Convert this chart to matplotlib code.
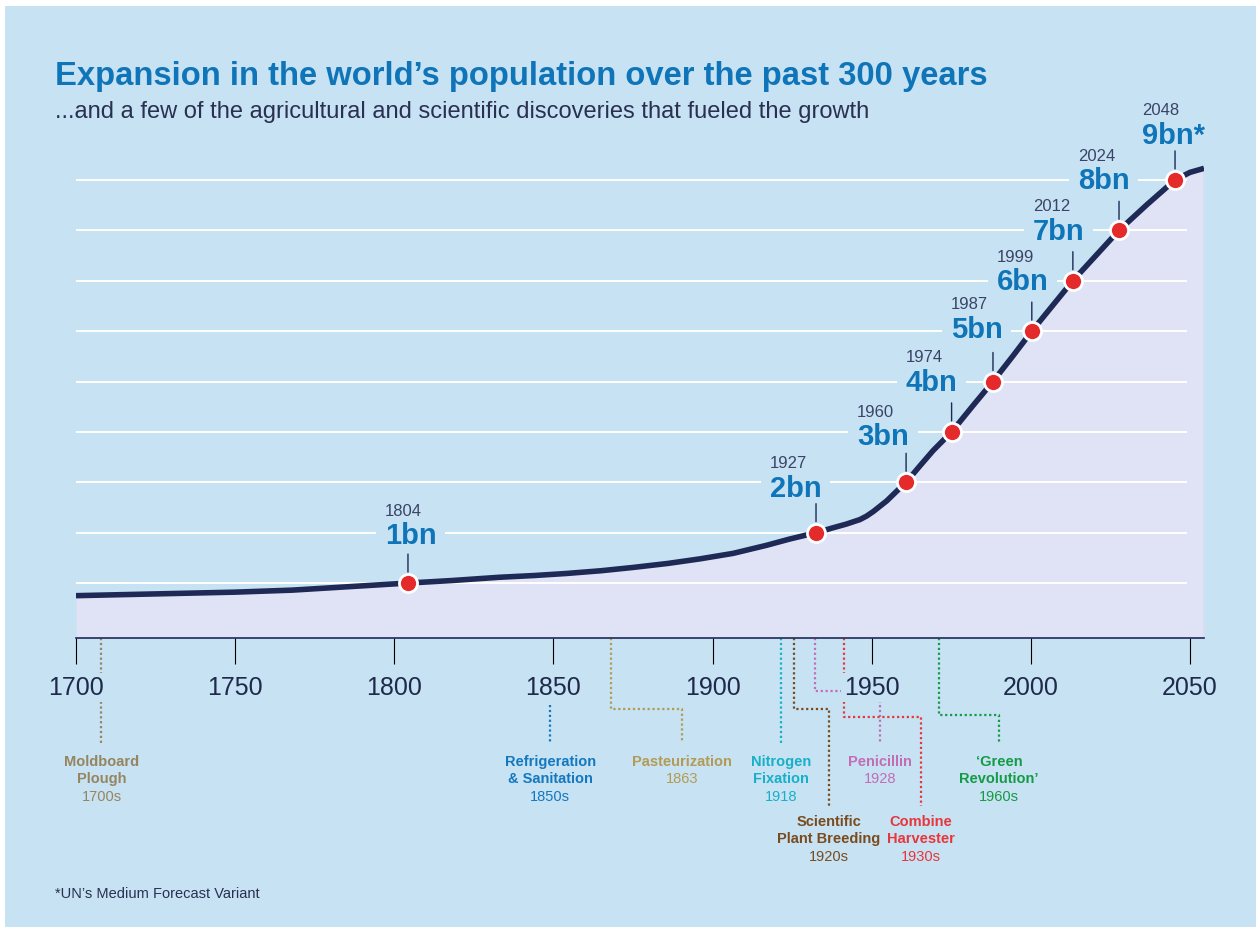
"""World population 1700-2050 with the discoveries that fed the growth.

Infographic-style recreation: a single population curve with billion
milestones, and a timeline of agricultural/scientific discoveries hanging
below the year axis.
"""

import matplotlib

matplotlib.use("Agg")
import matplotlib.pyplot as plt
from matplotlib.patches import Rectangle

plt.rcParams["font.family"] = ["Liberation Sans", "DejaVu Sans"]

# population curve as drawn (year, billions)
curve_years = [1700, 1750, 1768, 1804.3, 1818, 1833, 1844, 1854, 1865, 1875,
               1886, 1896, 1906.5, 1917, 1924, 1932.5, 1938, 1942, 1946.3, 1948.4,
               1950.5, 1954.7, 1957.8, 1960.8, 1965.2, 1969.3, 1975.1, 1981.8, 1988.1,
               1994.4, 2000.3, 2013.2, 2027.7, 2036.3, 2045.3, 2050, 2054.4]
curve_bn = [0.75, 0.82, 0.86, 1.0, 1.05, 1.115, 1.15, 1.19, 1.245, 1.31,
            1.39, 1.48, 1.59, 1.75, 1.87, 2.0, 2.1, 2.17, 2.26, 2.33,
            2.42, 2.63, 2.82, 3.0, 3.33, 3.63, 4.0, 4.52, 5.0,
            5.51, 6.0, 7.0, 8.0, 8.5, 9.0, 9.15, 9.23]

# billion milestones: where the dot sits on the curve, and what it says
milestone_pos = [1804.3, 1932.5, 1960.8, 1975.1, 1988.1, 2000.3, 2013.2, 2027.7, 2045.3]
milestone_bn = [1, 2, 3, 4, 5, 6, 7, 8, 9]
milestone_year = ["1804", "1927", "1960", "1974", "1987", "1999", "2012", "2024", "2048"]
milestone_text = ["1bn", "2bn", "3bn", "4bn", "5bn", "6bn", "7bn", "8bn", "9bn*"]

grid_levels = [1, 2, 3, 4, 5, 6, 7, 8, 9]
year_ticks = [1700, 1750, 1800, 1850, 1900, 1950, 2000, 2050]

# discoveries hanging off the timeline
disc_names = ["Moldboard\nPlough", "Refrigeration\n& Sanitation", "Pasteurization",
              "Nitrogen\nFixation", "Scientific\nPlant Breeding", "Penicillin",
              "Combine\nHarvester", "\u2018Green\nRevolution\u2019"]
disc_dates = ["1700s", "1850s", "1863", "1918", "1920s", "1928", "1930s", "1960s"]
disc_pos = [1708, 1849, 1868, 1921.5, 1925.6, 1932.2, 1941.3, 1971.1]
disc_colors = ["#958560", "#1478bf", "#b39b55", "#17b0c8",
               "#7a4b1e", "#c36db5", "#e8363b", "#159a45"]

# --- layout (pixels) ---
W, H = 1256, 928
BASE_PX, TOP_PX = 639, 150.7
PT = 72 / 100  # px -> points at dpi 100

# leader lines, px below the axis: (start, elbow or None, label x, end, text row)
DISC_LEADERS = [
    (0, None, 1708, 105, 0),
    (67, None, 1849, 106, 0),
    (0, 71, 1890.4, 104, 0),
    (0, None, 1921.5, 107, 0),
    (0, 71, 1936.6, 168, 1),
    (0, 53, 1952.6, 106, 0),
    (0, 79, 1965.5, 168, 1),
    (0, 77, 1990.0, 106, 0),
]
ROW_DEPTH = [123, 183]
LINE_PITCH = 17.5

# milestone label offsets from the dot, px (left edge, rise of the "bn" text)
label_dx = [-23, -46, -49, -46, -42, -35, -40, -41, -33]
label_rise = [48, 45, 46, 50, 53, 50, 50, 50, 45]

BG = "#c6e2f3"
FILL = "#dfe3f5"
NAVY = "#1e2a55"
BLUE = "#0f75b8"
RED = "#e52a2c"
TEXT = "#2a3050"
YEAR_C = "#3b4466"

fig = plt.figure(figsize=(W / 100, H / 100), dpi=100, facecolor="white")
fig.add_artist(Rectangle((5 / W, 0), 1, 1 - 7 / H, transform=fig.transFigure,
                         facecolor=BG, edgecolor="none", zorder=-10))

y0 = -0.09
ax = fig.add_axes([76 / W, (H - BASE_PX) / H, 1128 / W, (BASE_PX - TOP_PX) / H])
ax.set_facecolor("none")
ax.set_xlim(1700, 2054.4)
ax.set_ylim(y0, 9.6)
ax.set_zorder(2)

tl = fig.add_axes([76 / W, 0, 1128 / W, (H - BASE_PX) / H], sharex=ax)
tl.set_ylim(H - BASE_PX, 0)
tl.axis("off")
tl.set_zorder(1)

# area + grid + curve
ax.fill_between(curve_years, curve_bn, y0, color=FILL, lw=0, zorder=1)
ax.plot([curve_years[-1]] * 2, [y0, curve_bn[-1]], color="#aecde4", lw=1, zorder=1.5)
ax.hlines(grid_levels, 1700, 2049, colors="white", lw=1.4, zorder=2)
ax.plot(curve_years, curve_bn, color=NAVY, lw=4.0, solid_capstyle="butt",
        solid_joinstyle="round", zorder=4)
ax.plot(milestone_pos, milestone_bn, "o", ms=13, mfc=RED, mec="white", mew=2,
        zorder=6, clip_on=False)

for x, v, yr, txt, dx, rise in zip(milestone_pos, milestone_bn, milestone_year,
                                   milestone_text, label_dx, label_rise):
    ax.annotate(txt, (x, v), xytext=(dx * PT, rise * PT), textcoords="offset points",
                ha="left", va="center", fontsize=21, fontweight="bold", color=BLUE,
                bbox=dict(boxstyle="square,pad=0.3", fc=BG, ec="none"), zorder=3)
    ax.annotate(yr, (x, v), xytext=(dx * PT, (rise + 25) * PT), textcoords="offset points",
                ha="left", va="center", fontsize=12, color=YEAR_C, zorder=3.5)
    ax.annotate("", (x, v), xytext=(0, 29 * PT), textcoords="offset points",
                arrowprops=dict(arrowstyle="-", color=NAVY, lw=1,
                                shrinkA=0, shrinkB=11 * PT), zorder=3.5)

# axes styling
for side in ("top", "left", "right"):
    ax.spines[side].set_visible(False)
ax.spines["bottom"].set_color(NAVY)
ax.spines["bottom"].set_linewidth(1.2)
ax.set_yticks([])
ax.set_xticks(year_ticks)
ax.tick_params(axis="x", direction="out", length=26 * PT, width=0.8, color="black",
               labelsize=18, labelcolor="#1f2a4a", pad=8)
for lab in ax.get_xticklabels():
    lab.set_bbox(dict(boxstyle="square,pad=0.1", fc=BG, ec="none"))

# discovery timeline
for name, date, pos, col, (d0, elbow, lx, d1, row) in zip(
        disc_names, disc_dates, disc_pos, disc_colors, DISC_LEADERS):
    if elbow is None:
        xs, ys = [pos, pos], [d0, d1]
    else:
        xs, ys = [pos, pos, lx, lx], [d0, elbow, elbow, d1]
    tl.plot(xs, ys, color=col, lw=1.6, linestyle=(0, (1, 1.2)), clip_on=False)
    lines = name.split("\n")
    for i, line in enumerate(lines):
        tl.text(lx, ROW_DEPTH[row] + i * LINE_PITCH, line, ha="center", va="center",
                fontsize=10.5, fontweight="bold", color=col)
    tl.text(lx, ROW_DEPTH[row] + len(lines) * LINE_PITCH, date, ha="center",
            va="center", fontsize=10.5, color=col)

fig.text(55 / W, 1 - 85 / H, "Expansion in the world\u2019s population over the past 300 years",
         fontsize=23.6, fontweight="bold", color=BLUE, va="baseline")
fig.text(55 / W, 1 - 118 / H,
         "...and a few of the agricultural and scientific discoveries that fueled the growth",
         fontsize=17, color=TEXT, va="baseline")
fig.text(55 / W, 1 - 898 / H, "*UN\u2019s Medium Forecast Variant", fontsize=10.5,
         color=TEXT, va="baseline")

fig.savefig("out.png", dpi=100, facecolor=fig.get_facecolor())
